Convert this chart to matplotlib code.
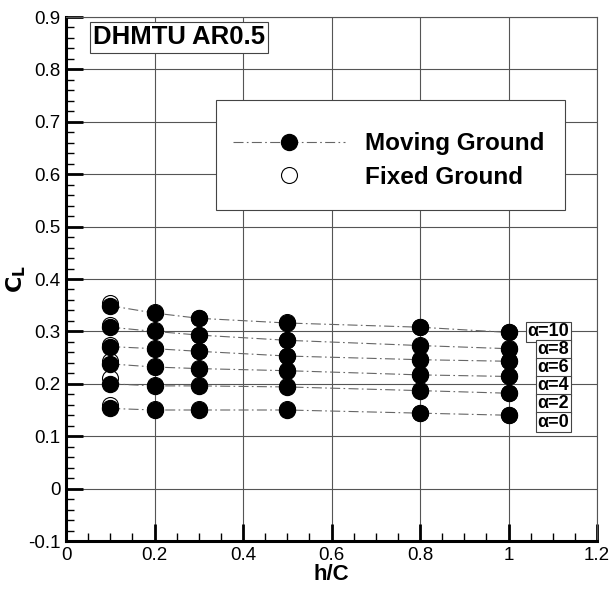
import matplotlib
matplotlib.use("Agg")
import matplotlib.pyplot as plt
from matplotlib.ticker import MultipleLocator
from matplotlib.lines import Line2D
from matplotlib.patches import Rectangle

plt.rcParams['font.family'] = ['Liberation Sans', 'DejaVu Sans']

h = [0.1, 0.2, 0.3, 0.5, 0.8, 1.0]
alphas = [10, 8, 6, 4, 2, 0]
moving = {
    10: [0.349, 0.335, 0.325, 0.316, 0.308, 0.298],
    8:  [0.308, 0.300, 0.293, 0.283, 0.273, 0.267],
    6:  [0.271, 0.267, 0.262, 0.253, 0.246, 0.243],
    4:  [0.238, 0.232, 0.229, 0.225, 0.217, 0.214],
    2:  [0.200, 0.196, 0.196, 0.194, 0.187, 0.182],
    0:  [0.153, 0.150, 0.150, 0.150, 0.144, 0.140],
}
fixed = {
    10: [0.354, 0.337, 0.326, 0.317, 0.309, 0.299],
    8:  [0.313, 0.302, 0.294, 0.284, 0.274, 0.268],
    6:  [0.275, 0.268, 0.263, 0.254, 0.247, 0.244],
    4:  [0.243, 0.234, 0.230, 0.226, 0.218, 0.215],
    2:  [0.211, 0.198, 0.197, 0.195, 0.188, 0.183],
    0:  [0.160, 0.151, 0.151, 0.151, 0.145, 0.141],
}
label_y = [0.299, 0.265, 0.231, 0.196, 0.162, 0.127]

W, H = 609, 589
L, R, T, B = 66, 597, 17, 541
fig = plt.figure(figsize=(6.09, 5.89), dpi=100)
ax = fig.add_axes([L/W, 1-B/H, (R-L)/W, (B-T)/H])

def ax_x(px):
    return (px - L) / (R - L)

def ax_y(py):
    return (B - py) / (B - T)

for a in alphas:
    ax.plot(h, fixed[a], linestyle='none', marker='o', markersize=11.5,
            markerfacecolor='white', markeredgecolor='black', markeredgewidth=0.8, zorder=3)
for a in alphas:
    ax.plot(h, moving[a], linestyle=(0, (9, 3, 1.5, 3)), color='#666666', linewidth=0.8,
            marker='o', markersize=11.5, markerfacecolor='black', markeredgecolor='black', zorder=4)

for a, ly in zip(alphas, label_y):
    ax.text(1.137, ly, '\u03b1=' + str(a), ha='right', va='center', fontsize=13,
            fontweight='bold',
            bbox=dict(boxstyle='square,pad=0.08', facecolor='white', edgecolor='#444444', linewidth=0.8),
            zorder=5)

ax.set_xlim(0, 1.2)
ax.set_ylim(-0.1, 0.9)
ax.xaxis.set_minor_locator(MultipleLocator(0.05))
ax.yaxis.set_minor_locator(MultipleLocator(0.02))
ax.set_xticks([0, 0.2, 0.4, 0.6, 0.8, 1.0, 1.2])
ax.set_xticklabels(['0', '0.2', '0.4', '0.6', '0.8', '1', '1.2'])
ax.set_yticks([-0.1, 0, 0.1, 0.2, 0.3, 0.4, 0.5, 0.6, 0.7, 0.8, 0.9])
ax.set_yticklabels(['-0.1', '0', '0.1', '0.2', '0.3', '0.4', '0.5', '0.6', '0.7', '0.8', '0.9'])
ax.grid(True, which='major', color='#555555', linewidth=0.8)
ax.set_axisbelow(True)
ax.tick_params(which='major', direction='in', length=12, width=2, labelsize=13.5, pad=4,
               top=False, right=False)
ax.tick_params(which='minor', direction='in', length=6, width=1, top=False, right=False)
for s in ['bottom', 'left']:
    ax.spines[s].set_linewidth(2.2)
for s in ['top', 'right']:
    ax.spines[s].set_linewidth(0.8)
    ax.spines[s].set_color('#555555')

ax.set_xlabel('h/C', fontsize=16, fontweight='bold', labelpad=0)
ax.set_ylabel(r'$\mathbf{C_L}$', fontsize=16, labelpad=0)

ax.text(ax_x(93), ax_y(37.5), 'DHMTU AR0.5', transform=ax.transAxes, fontsize=18.5,
        fontweight='bold', ha='left', va='center',
        bbox=dict(boxstyle='square,pad=0.12', facecolor='white', edgecolor='#444444', linewidth=0.8),
        zorder=6)

# legend frame
ax.add_patch(Rectangle((ax_x(216), ax_y(210)), ax_x(565) - ax_x(216), ax_y(100) - ax_y(210),
                       transform=ax.transAxes, facecolor='white', edgecolor='#444444',
                       linewidth=0.8, zorder=6))
handles = [
    Line2D([], [], linestyle=(0, (9, 3, 1.5, 3)), color='#666666', linewidth=0.8, marker='o',
           markersize=11.5, markerfacecolor='black', markeredgecolor='black'),
    Line2D([], [], linestyle='none', marker='o', markersize=11.5, markerfacecolor='white',
           markeredgecolor='black', markeredgewidth=0.8),
]
leg = ax.legend(handles, ['Moving Ground', 'Fixed Ground'], loc='center left',
                bbox_to_anchor=(ax_x(233), ax_y(160.5)), prop={'size': 17.5, 'weight': 'bold'},
                frameon=False, borderpad=0, handlelength=4.6, handletextpad=0.85,
                labelspacing=0.45, borderaxespad=0)
leg.set_zorder(7)

fig.savefig('out.png', dpi=100)
